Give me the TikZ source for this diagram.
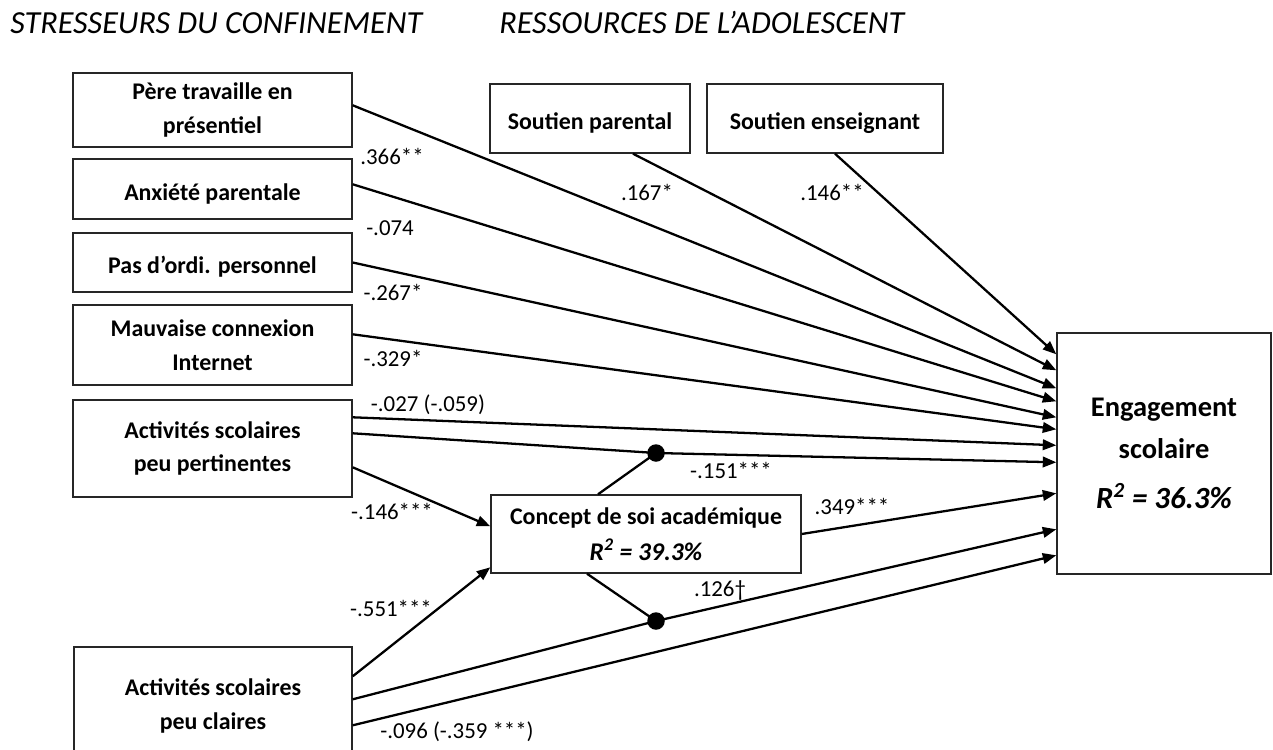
\documentclass[tikz,border=0pt]{standalone}
\usepackage{fontspec}
\setmainfont{Carlito}
\usetikzlibrary{arrows.meta}
\usetikzlibrary{calc}
\usetikzlibrary{positioning}

\tikzset{
  box/.style={draw=black!85, line width=0.8pt, align=center, inner sep=0pt,
    font=\bfseries\fontsize{13.6}{19.3}\selectfont,
    execute at begin node={\rule{0pt}{15pt}}},
  coef/.style={font=\fontsize{13}{15}\selectfont, inner sep=0pt},
  effect/.style={line width=1.3pt, -{Triangle[length=2.7mm, width=2.1mm]}},
  link/.style={line width=1.3pt},
  moddot/.style={circle, fill=black, inner sep=0pt, minimum size=3.5mm},
  heading/.style={font=\itshape\fontsize{18.3}{22}\selectfont, anchor=base west, inner sep=0pt},
}

\begin{document}
\begin{tikzpicture}[x=0.2mm, y=-0.2mm]
  \useasboundingbox (0,0) rectangle (1273,750);

  % titres
  \node[heading] (tstress) at (10,33) {STRESSEURS DU CONFINEMENT};
  \node[heading] (tress)   at (499,33) {RESSOURCES DE L’ADOLESCENT};

  % stresseurs
  \node[box, minimum width=55.8mm, minimum height=14.8mm] (pere)  at (212.5,110)   {Père travaille en\\présentiel};
  \node[box, minimum width=55.8mm, minimum height=12mm]   (anx)   at (212.5,189)   {Anxiété parentale};
  \node[box, minimum width=55.8mm, minimum height=11.8mm] (ordi)  at (212.5,262.5) {Pas d’ordi. personnel};
  \node[box, minimum width=55.8mm, minimum height=16mm]   (conn)  at (212.5,345)   {Mauvaise connexion\\Internet};
  \node[box, minimum width=55.8mm, minimum height=19.4mm] (pert)  at (212.5,448.5) {Activités scolaires\\peu pertinentes};
  \node[box, minimum width=55.6mm, minimum height=23.6mm] (clair) at (213,706)     {Activités scolaires\\peu claires};

  % ressources
  \node[box, minimum width=40mm,   minimum height=13.8mm] (par) at (590,118.5) {Soutien parental};
  \node[box, minimum width=47.2mm, minimum height=13.8mm] (ens) at (825,118.5) {Soutien enseignant};

  % mediateur et issue
  \node[box, minimum width=62mm, minimum height=15.6mm] (concept) at (646,534)
    {Concept de soi académique\\[1pt]{\itshape\fontsize{14.5}{19}\selectfont R\textsuperscript{2} = 39.3\%}};
  \node[box, minimum width=42.8mm, minimum height=48.2mm,
        font=\bfseries\fontsize{16.2}{23.5}\selectfont] (eng) at (1164,453.5)
    {Engagement\\scolaire\\[5pt]{\itshape\fontsize{17.5}{23.5}\selectfont R\textsuperscript{2} = 36.3\%}};

  % points d'entree
  \foreach \n/\d in {ens/22, par/38, pere/56, anx/69, ordi/85, conn/97,
                     pertA/113, pertB/130, concept/161, clairA/197, clairB/223}
    \coordinate (e-\n) at ($(eng.north west)+(0,\d)$);

  % moderations
  \node[moddot] (dotA) at (656,453) {};
  \node[moddot] (dotB) at (656,621) {};

  % effets directs
  \draw[effect] ($(par.south)+(43,0)$) -- (e-par);
  \draw[effect] ($(ens.south)+(10,0)$) -- (e-ens);
  \draw[effect] ($(pere.north east)+(0,33)$) -- (e-pere);
  \draw[effect] ($(anx.north east)+(0,26)$) -- (e-anx);
  \draw[effect] (ordi.east) -- (e-ordi);
  \draw[effect] ($(conn.north east)+(0,30)$) -- (e-conn);
  \draw[effect] ($(pert.north east)+(0,18)$) -- (e-pertA);
  \draw[effect] ($(pert.north east)+(0,34)$) -- (dotA.center) -- (e-pertB);
  \draw[effect] ($(pert.north east)+(0,68)$) -- ($(concept.north west)+(0,32)$);
  \draw[effect] ($(clair.north east)+(0,30)$) -- ($(concept.north west)+(0,73)$);
  \draw[effect] ($(clair.north east)+(0,53)$) -- (dotB.center) -- (e-clairA);
  \draw[effect] ($(clair.north east)+(0,79)$) -- (e-clairB);
  \draw[effect] (concept.east) -- (e-concept);
  \draw[link] ($(concept.north)+(-48,0)$) -- (dotA.center);
  \draw[link] ($(concept.south)+(-59,0)$) -- (dotB.center);

  % coefficients
  \node[coef] (c-pere)    at (392,156) {.366**};
  \node[coef] (c-anx)     at (390,228) {-.074};
  \node[coef] (c-ordi)    at (393,292) {-.267*};
  \node[coef] (c-conn)    at (393,358) {-.329*};
  \node[coef] (c-pertA)   at (428,405) {-.027 (-.059)};
  \node[coef] (c-pertC)   at (392,511) {-.146***};
  \node[coef] (c-clairC)  at (391,608) {-.551***};
  \node[coef] (c-clairB)  at (457,732) {-.096 (-.359 ***)};
  \node[coef] (c-par)     at (647,192) {.167*};
  \node[coef] (c-ens)     at (832,192) {.146**};
  \node[coef] (c-dotA)    at (731,470) {-.151***};
  \node[coef] (c-concept) at (852,506) {.349***};
  \node[coef] (c-dotB)    at (720,590) {.126†};
\end{tikzpicture}
\end{document}
